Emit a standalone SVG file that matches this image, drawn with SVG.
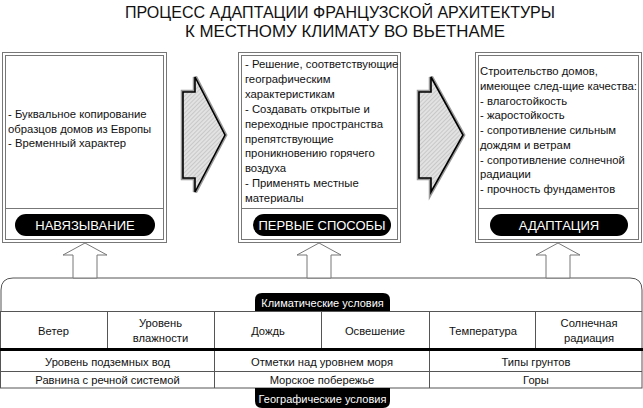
<svg xmlns="http://www.w3.org/2000/svg" width="643" height="408" viewBox="0 0 643 408">
<defs>
<pattern id="hatch" width="3" height="3" patternUnits="userSpaceOnUse" patternTransform="rotate(45)">
<rect width="3" height="3" fill="#e2e2e2"/>
<line x1="0" y1="0" x2="0" y2="3" stroke="#a8a8a8" stroke-width="0.9"/>
</pattern>
</defs>
<style>
text{font-family:"Liberation Sans",Arial,sans-serif;fill:#111}
.t{font-size:11.3px}
.c{font-size:11.2px;text-anchor:middle}
.w{fill:#fff;text-anchor:middle}
.pill{font-size:13px}
.tab{font-size:11px}
.box{fill:#fff;stroke:#777;stroke-width:1}
.in{fill:none;stroke:#777;stroke-width:1}
.up{fill:#fff;stroke:#777;stroke-width:1}
.grid{stroke:#555;stroke-width:1;fill:none}
.arrowbg{fill:none;stroke:#999;stroke-width:4.5;stroke-linejoin:miter}
.arrowfg{fill:url(#hatch);stroke:#000;stroke-width:1.6;stroke-linejoin:miter}
</style>
<rect width="643" height="408" fill="#fff"/>
<g id="title">
<text x="340" y="18" font-size="17" text-anchor="middle" textLength="430" lengthAdjust="spacingAndGlyphs">ПРОЦЕСС АДАПТАЦИИ ФРАНЦУЗСКОЙ АРХИТЕКТУРЫ</text>
<text x="345" y="37" font-size="17" text-anchor="middle" textLength="320" lengthAdjust="spacingAndGlyphs">К МЕСТНОМУ КЛИМАТУ ВО ВЬЕТНАМЕ</text>
</g>
<g id="box1">
<rect class="box" x="2.5" y="52.5" width="164" height="190"/>
<rect class="in" x="5.5" y="55.5" width="158" height="184"/>
<line class="in" x1="5.5" y1="208.5" x2="163.5" y2="208.5"/>
<text class="t" x="8" y="118">- Буквальное копирование</text>
<text class="t" x="8" y="132.5">образцов домов из Европы</text>
<text class="t" x="8" y="147">- Временный характер</text>
<rect x="15" y="214" width="140" height="22" rx="11" fill="#000"/>
<text class="w pill" x="85" y="229.5">НАВЯЗЫВАНИЕ</text>
</g>
<g id="box2">
<rect class="box" x="238.5" y="52.5" width="162" height="190"/>
<rect class="in" x="241.5" y="55.5" width="156" height="184"/>
<line class="in" x1="241.5" y1="208.5" x2="397.5" y2="208.5"/>
<text class="t" x="245" y="68">- Решение, соответствующие</text>
<text class="t" x="245" y="82.9">географическим</text>
<text class="t" x="245" y="97.8">характеристикам</text>
<text class="t" x="245" y="112.7">- Создавать открытые и</text>
<text class="t" x="245" y="127.6">переходные пространства</text>
<text class="t" x="245" y="142.5">препятствующие</text>
<text class="t" x="245" y="157.4">проникновению горячего</text>
<text class="t" x="245" y="172.3">воздуха</text>
<text class="t" x="245" y="187.2">- Применять местные</text>
<text class="t" x="245" y="202.1">материалы</text>
<rect x="253" y="214" width="138" height="22" rx="11" fill="#000"/>
<text class="w pill" x="322" y="229.5">ПЕРВЫЕ СПОСОБЫ</text>
</g>
<g id="box3">
<rect class="box" x="475.5" y="52.5" width="166" height="190"/>
<rect class="in" x="478.5" y="55.5" width="160" height="184"/>
<line class="in" x1="478.5" y1="208.5" x2="638.5" y2="208.5"/>
<text class="t" x="480" y="75">Строительство домов,</text>
<text class="t" x="480" y="89.75" textLength="157" lengthAdjust="spacingAndGlyphs">имеющее след-щие качества:</text>
<text class="t" x="480" y="104.5">- влагостойкость</text>
<text class="t" x="480" y="119.25">- жаростойкость</text>
<text class="t" x="480" y="134">- сопротивление сильным</text>
<text class="t" x="480" y="148.75">дождям и ветрам</text>
<text class="t" x="480" y="163.5">- сопротивление солнечной</text>
<text class="t" x="480" y="178.25">радиации</text>
<text class="t" x="480" y="193">- прочность фундаментов</text>
<rect x="490" y="214" width="138" height="22" rx="11" fill="#000"/>
<text class="w pill" x="559" y="229.5">АДАПТАЦИЯ</text>
</g>
<g id="table">
<path class="grid" d="M1,311 V290 Q1,278 13,278 H630 Q642,278 642,290 V311"/>
<rect class="grid" x="0.5" y="311.5" width="641.5" height="76.5"/>
<line class="grid" x1="107.5" y1="311.5" x2="107.5" y2="349"/>
<line class="grid" x1="214.5" y1="311.5" x2="214.5" y2="388"/>
<line class="grid" x1="321.5" y1="311.5" x2="321.5" y2="349"/>
<line class="grid" x1="429.5" y1="311.5" x2="429.5" y2="388"/>
<line class="grid" x1="535.5" y1="311.5" x2="535.5" y2="349"/>
<line x1="0" y1="349.5" x2="643" y2="349.5" stroke="#000" stroke-width="3"/>
<line class="grid" x1="0.5" y1="371.5" x2="642" y2="371.5"/>
<text class="c" x="53.5" y="335">Ветер</text>
<text class="c" x="160.5" y="327">Уровень</text>
<text class="c" x="160.5" y="342">влажности</text>
<text class="c" x="268" y="335">Дождь</text>
<text class="c" x="375" y="335">Освешение</text>
<text class="c" x="483" y="335">Температура</text>
<text class="c" x="589" y="327">Солнечная</text>
<text class="c" x="589" y="342">радиация</text>
<text class="c" x="107.5" y="366">Уровень подземных вод</text>
<text class="c" x="322" y="366">Отметки над уровнем моря</text>
<text class="c" x="536" y="366">Типы грунтов</text>
<text class="c" x="107.5" y="384">Равнина с речной системой</text>
<text class="c" x="322" y="384">Морское побережье</text>
<text class="c" x="536" y="384">Горы</text>
</g>
<g id="tab-climate">
<path d="M255,311 V300 Q255,293 262,293 H383 Q390,293 390,300 V311 Z" fill="#000"/>
<text class="w tab" x="322.5" y="306.5">Климатические условия</text>
</g>
<g id="tab-geo">
<path d="M255,388 V401 Q255,408 262,408 H383 Q390,408 390,401 V388 Z" fill="#000"/>
<text class="w tab" x="322.5" y="403">Географические условия</text>
</g>
<g id="connectors">
<polygon class="arrowbg" points="183,92 195,92 195,77 225,135 195,192 195,178 183,178"/>
<polygon class="arrowfg" points="183,92 195,92 195,77 225,135 195,192 195,178 183,178"/>
<polygon class="arrowbg" points="419,92 431,92 431,77 463,135 431,192 431,178 419,178"/>
<polygon class="arrowfg" points="419,92 431,92 431,77 463,135 431,192 431,178 419,178"/>
<polygon class="up" points="85,243 107,255 97,255 97,278 73,278 73,255 63,255"/>
<polygon class="up" points="319,243 341,255 331,255 331,278 307,278 307,255 297,255"/>
<polygon class="up" points="558,243 580,255 570,255 570,278 546,278 546,255 536,255"/>
</g>
</svg>
